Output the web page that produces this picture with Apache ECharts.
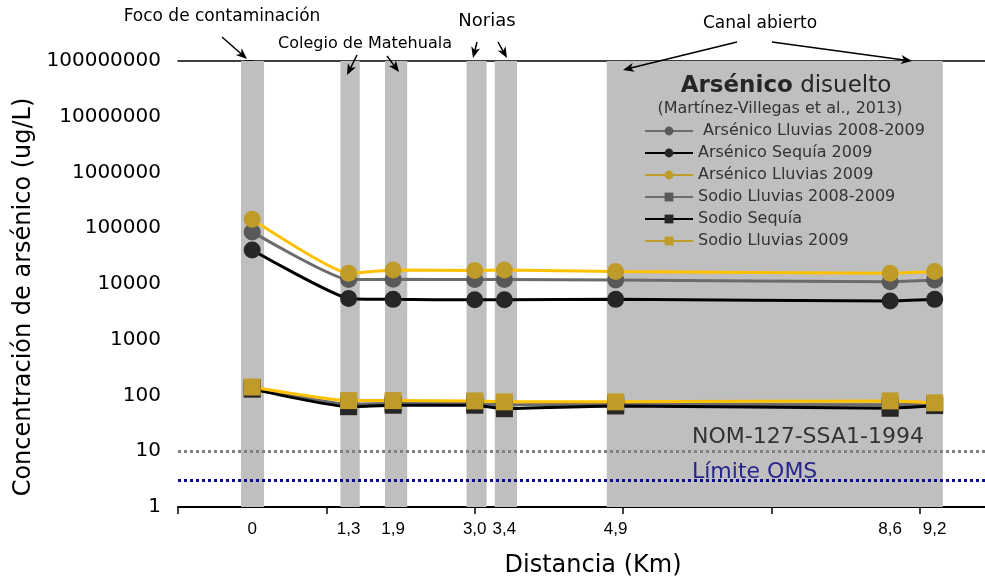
<!DOCTYPE html>
<html><head><meta charset="utf-8">
<script src="https://cdn.jsdelivr.net/npm/echarts@6/dist/echarts.min.js"></script>
<style>html,body{margin:0;padding:0;background:#fff}#c{width:985px;height:578px}</style>
</head><body><div id="c"></div>
<script>
// ---- data ----
const distances = [0, 1.3, 1.9, 3.0, 3.4, 4.9, 8.6, 9.2];
const asLluvias0809 = [86000, 12000, 12200, 12000, 12000, 11800, 11000, 11800];
const asSequia09 = [40700, 5500, 5300, 5200, 5200, 5300, 4950, 5300];
const asLluvias09 = [145000, 15600, 17800, 17400, 17800, 16700, 15600, 16700];
const naLluvias0809 = [138, 70, 72, 72, 68, 70, 68, 70];
const naSequia = [130, 63, 67, 67, 58, 65, 59, 66];
const naLluvias09 = [142, 81, 81, 80, 77, 77, 80, 74];
const bandStart = [-0.15, 1.19, 1.79, 2.89, 3.27, 4.78];
const bandEnd = [0.16, 1.45, 2.09, 3.16, 3.57, 9.31];
const xTickValues = [-1, 1, 3, 5, 7, 9];
const yTickLabels = ['1','10','100','1000','10000','100000','1000000','10000000','100000000'];
const nomLimit = 10;
const omsLimit = 3;
const seriesNames = ['Arsénico Lluvias 2008-2009','Arsénico Sequía 2009','Arsénico Lluvias 2009','Sodio Lluvias 2008-2009','Sodio Sequía','Sodio Lluvias 2009'];

// ---- styles ----
const F = '"DejaVu Sans", sans-serif';
const GRAY_L = '#6b6b6b', GRAY_M = '#595959';
const BLACK_L = '#000000', BLACK_M = '#262626';
const YEL_L = '#FFC000', YEL_M = '#BF9B2A';

function pairs(vals){ return distances.map((d,i)=>[d, vals[i]]); }
function mkSeries(name, vals, symbol, lineColor, markColor){
  return {
    name, type:'line', data: pairs(vals), smooth: 0.15,
    symbol, symbolSize: 17, z: 5,
    lineStyle:{color: lineColor, width: 3},
    itemStyle:{color: markColor},
    emphasis:{disabled:true}, animation:false
  };
}

function arrow(x1,y1,x2,y2){
  const dx=x2-x1, dy=y2-y1, L=Math.hypot(dx,dy), ux=dx/L, uy=dy/L, nx=-uy, ny=ux;
  const len=11, hw=4.5;
  const bx=x2-len*ux, by=y2-len*uy;
  const kx=x2-8*ux, ky=y2-8*uy;
  return [
    {type:'line', shape:{x1,y1,x2:kx,y2:ky}, style:{stroke:'#000', lineWidth:1.5}, z:100},
    {type:'polygon', shape:{points:[[x2,y2],[bx+hw*nx,by+hw*ny],[kx,ky],[bx-hw*nx,by-hw*ny]]}, style:{fill:'#000'}, z:100}
  ];
}
function txt(text,x,y,size,color,align){
  return {type:'text', z:100, style:{text, x, y, font: size+'px '+F, fill: color||'#000', align: align||'center', verticalAlign:'middle'}};
}

const chart = echarts.init(document.getElementById('c'), null, {renderer:'canvas'});
const bandData = bandStart.map((s,i)=>[{xAxis:s},{xAxis:bandEnd[i]}]);

const option = {
  animation:false,
  backgroundColor:'#fff',
  grid:{left:178, top:61, width:816, height:446, containLabel:false, outerBoundsMode:'none'},
  xAxis:[{
    type:'value', min:-1, max:10, position:'bottom',
    axisLine:{show:true, lineStyle:{color:'#000', width:2}},
    axisTick:{show:true, inside:false, length:7, customValues: xTickValues, lineStyle:{color:'#000', width:1.5}},
    axisLabel:{show:true, customValues: distances, margin:14, fontFamily:'"Liberation Sans", Arial, sans-serif', fontSize:17, color:'#000',
      formatter: v => v === 3 ? '3,0' : String(v).replace('.', ',')},
    splitLine:{show:false},
    name:'Distancia (Km)', nameLocation:'middle', nameGap:47,
    nameTextStyle:{fontFamily:F, fontSize:24, color:'#000', padding:[0,0,0,14]}
  },{
    type:'value', min:-1, max:10, position:'top',
    axisLine:{show:true, lineStyle:{color:'#000', width:1.5}},
    axisTick:{show:false}, axisLabel:{show:false}, splitLine:{show:false}
  }],
  yAxis:{
    type:'log', logBase:10, min:1, max:100000000,
    axisLine:{show:true, lineStyle:{color:'#000', width:2}},
    axisTick:{show:true, length:7, lineStyle:{color:'#000', width:1.5}},
    axisLabel:{margin:17, fontFamily:F, fontSize:20, color:'#000',
      formatter: v => yTickLabels[Math.round(Math.log10(v))]},
    splitLine:{show:false}, minorTick:{show:false},
    name:'Concentración de arsénico (ug/L)', nameLocation:'middle', nameGap:140, nameRotate:90,
    nameTextStyle:{fontFamily:F, fontSize:24, color:'#000', padding:[0,26,0,0]}
  },
  legend:{
    orient:'vertical', left:644, top:123, padding:0, itemWidth:48, itemHeight:11, itemGap:6,
    textStyle:{fontFamily:F, fontSize:16, color:'#333'},
    formatter: n => n === seriesNames[0] ? ' ' + n : n,
    data: seriesNames.map((n,i)=> i===2||i===5 ? {name:n, lineStyle:{color:YEL_M}} : {name:n}),
    selectedMode:false, inactiveColor:'#333'
  },
  series:[
    {type:'line', name:'bands', data:[], z:1, silent:true,
     markArea:{silent:true, itemStyle:{color:'#BFBFBF'}, data: bandData}},
    {type:'line', name:'limits', data:[], z:4, silent:true,
     markLine:{silent:true, symbol:'none', label:{show:false}, animation:false,
       data:[
         {yAxis:nomLimit, lineStyle:{color:'#808080', width:3, type:[3,3]}},
         {yAxis:omsLimit, lineStyle:{color:'#0c0c8f', width:3, type:[3,3]}}
       ]}},
    mkSeries(seriesNames[0], asLluvias0809, 'circle', GRAY_L, GRAY_M),
    mkSeries(seriesNames[1], asSequia09, 'circle', BLACK_L, BLACK_M),
    mkSeries(seriesNames[2], asLluvias09, 'circle', YEL_L, YEL_M),
    mkSeries(seriesNames[3], naLluvias0809, 'rect', GRAY_L, GRAY_M),
    mkSeries(seriesNames[4], naSequia, 'rect', BLACK_L, BLACK_M),
    mkSeries(seriesNames[5], naLluvias09, 'rect', YEL_L, YEL_M)
  ],
  graphic:[
    txt('Foco de contaminación', 222, 17, 17),
    txt('Colegio de Matehuala', 365, 44, 16),
    txt('Norias', 487, 21, 18),
    txt('Canal abierto', 760, 24, 17),
    ...arrow(222,37,247,59),
    ...arrow(357,55,347,75),
    ...arrow(387,56,399,72),
    ...arrow(477,42,473,58),
    ...arrow(498,42,507,58),
    ...arrow(737,42,623,70),
    ...arrow(772,42,912,61),
    {type:'text', z:100, style:{text:'{b|Arsénico} disuelto', x:786, y:86, align:'center', verticalAlign:'middle',
      font:'23px '+F, fill:'#262626', rich:{b:{fontWeight:'bold', fontSize:23, fontFamily:F, fill:'#262626'}}}},
    txt('(Martínez-Villegas et al., 2013)', 780, 109, 16, '#333'),
    txt('NOM-127-SSA1-1994', 692, 437, 22, '#333', 'left'),
    txt('Límite OMS', 692, 472, 22, '#26268c', 'left')
  ]
};
chart.setOption(option);
</script></body></html>
